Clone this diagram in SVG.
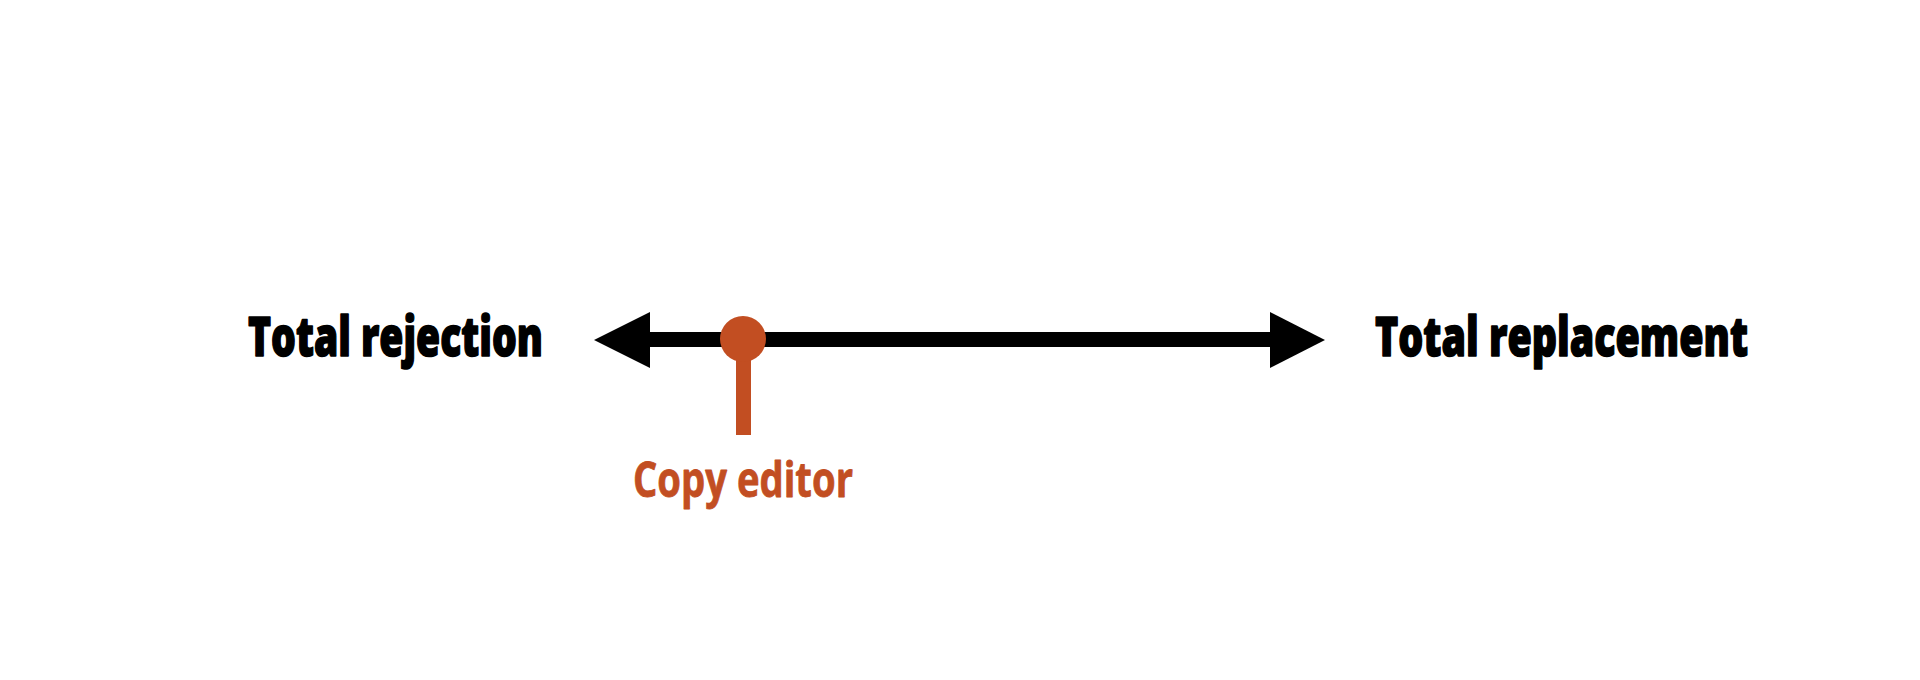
<svg xmlns="http://www.w3.org/2000/svg" width="1920" height="680" viewBox="0 0 1920 680">
<style>
.lbl{font-family:"Open Sans","Liberation Sans",sans-serif;font-weight:800;fill:#000;stroke:#000;stroke-width:1.6;stroke-linejoin:round}
.ed{font-family:"Open Sans","Liberation Sans",sans-serif;font-weight:700;fill:#C24E22;stroke:#C24E22;stroke-width:0.8;stroke-linejoin:round}
</style>
<rect width="1920" height="680" fill="#fff"/>
<g id="connectors">
<rect x="648" y="332" width="624" height="15" fill="#000"/>
<polygon points="594,340 650,312 650,368" fill="#000"/>
<polygon points="1325,340 1270,312 1270,368" fill="#000"/>
</g>
<g id="node-rejection">
<text class="lbl" x="248" y="356" font-size="55" textLength="295" lengthAdjust="spacingAndGlyphs">Total rejection</text>
</g>
<g id="node-replacement">
<text class="lbl" x="1375" y="356" font-size="55" textLength="373" lengthAdjust="spacingAndGlyphs">Total replacement</text>
</g>
<g id="node-copy-editor">
<rect x="736" y="345" width="15" height="90" fill="#C24E22"/>
<circle cx="743" cy="339" r="23" fill="#C24E22"/>
<text class="ed" x="633" y="497" font-size="49" textLength="220" lengthAdjust="spacingAndGlyphs">Copy editor</text>
</g>
</svg>
